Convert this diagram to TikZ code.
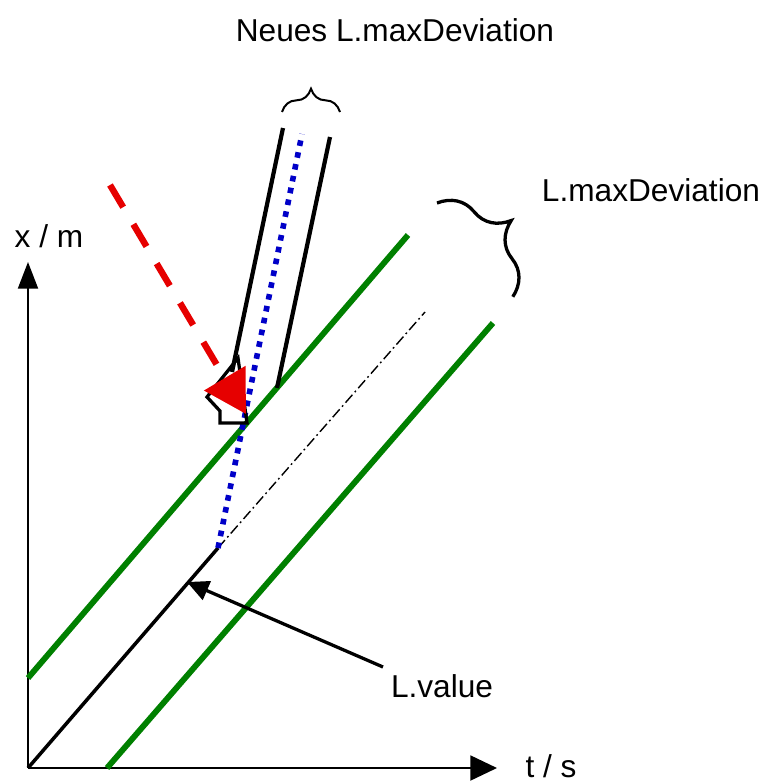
\documentclass[tikz,border=0pt]{standalone}
\usepackage{fontspec}
\setmainfont{Liberation Sans}
\usetikzlibrary{arrows.meta,decorations.pathreplacing}
\definecolor{dgreen}{RGB}{0,128,0}
\definecolor{dred}{RGB}{230,0,0}
\definecolor{dblue}{RGB}{0,0,200}

\begin{document}
\begin{tikzpicture}[x=0.03cm, y=-0.03cm, font=\fontsize{27}{30}\selectfont]
    \useasboundingbox (0,0) rectangle (767,784);

    % Define points
    \coordinate (O) at (28,768);
    \coordinate (Ytip) at (28,262);
    \coordinate (Xtip) at (497,768);
    \coordinate (V) at (218,548);
    \coordinate (Vend) at (425,312);
    \coordinate (Gup1) at (28,678);
    \coordinate (Gup2) at (408,235);
    \coordinate (Glo1) at (107,768);
    \coordinate (Glo2) at (493,323);
    \coordinate (Btop) at (302,134);
    \coordinate (L1) at (283,128);
    \coordinate (L2) at (232,372);
    \coordinate (R1) at (330,137);
    \coordinate (R2) at (277,388);
    \coordinate (Rs) at (110,185);
    \coordinate (Rt) at (246,414);
    \coordinate (Vtip) at (187,582);

    % Define labels
    \node at (49,236) (xlab) {x / m};
    \node at (551,766) (tlab) {t / s};
    \node at (395,30) (neu) {Neues L.maxDeviation};
    \node at (651,190) (maxdev) {L.maxDeviation};
    \node at (442,686) (val) {L.value};

    % Draw axes
    \draw[line width=1.7pt, -{Triangle[length=0.8cm, width=0.6cm]}] (O) -- (Ytip);
    \draw[line width=1.7pt, -{Triangle[length=0.8cm, width=0.75cm]}] (O) -- (Xtip);

    % Draw green band
    \draw[dgreen, line width=5pt] (Gup1) -- (Gup2);
    \draw[dgreen, line width=5pt] (Glo1) -- (Glo2);

    % Draw value line
    \draw[line width=3pt] (O) -- (V);
    \draw[line width=1.2pt, dash pattern=on 9pt off 3pt on 1.5pt off 3pt] (V) -- (Vend);

    % Draw new band
    \draw[dblue, line width=4.8pt, dash pattern=on 4.8pt off 5.5pt] (V) -- (Btop);
    \draw[line width=3.6pt] (L1) -- (L2);
    \draw[line width=3.6pt] (R1) -- (R2);
    \draw[line width=2.8pt, line join=miter]
        (238,358) -- (207,397) -- (220,411) -- (220,423) -- (247,423) -- cycle;

    % Draw red arrow
    \draw[dred, line width=5.5pt, dash pattern=on 22pt off 17pt,
          -{Triangle[length=1.25cm, width=1.4cm]}] (Rs) -- (Rt);

    % Draw value arrow
    \draw[line width=2.8pt, -{Triangle[length=0.65cm, width=0.6cm]}] (383,667) -- (Vtip);

    % Draw braces
    \draw[line width=1.7pt, decorate, decoration={brace, amplitude=0.7cm}]
        (282,112) -- (340,112);
    \draw[line width=2.8pt, decorate, decoration={brace, amplitude=1.4cm}]
        (437,203) -- (513,297);
\end{tikzpicture}
\end{document}
